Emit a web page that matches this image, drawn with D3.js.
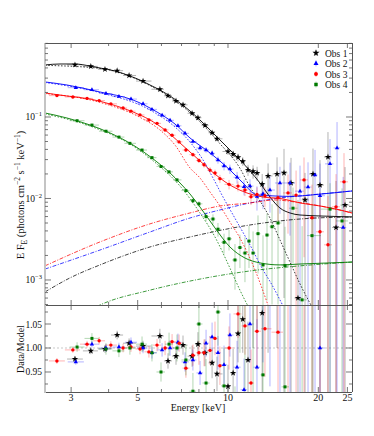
<!DOCTYPE html>
<html><head><meta charset="utf-8">
<script src="https://cdn.jsdelivr.net/npm/d3@7"></script>
<style>
body{margin:0;background:#fff}
svg{display:block}
text{font-family:"Liberation Serif","DejaVu Serif",serif;fill:#111}
</style></head>
<body><svg id="c" width="374" height="436"></svg>
<script>
// ---------------- data: Obs 1 (black) ----------------
const E1=[3.09,3.49,3.89,4.27,4.68,5.21,5.93,6.31,6.71,7.08,7.59,7.94,8.38,8.85,9.19,10.0,10.4,10.8,11.2,11.66,12.12,12.5,13.0,13.6,14.57,15.37,16.22,17.11,18.06,19.2,20.26,21.54,22.91,24.55];
const F1=[0.437,0.418,0.385,0.370,0.323,0.276,0.219,0.182,0.157,0.141,0.111,0.098,0.079,0.064,0.054,0.0377,0.035,0.032,0.0286,0.0224,0.0215,0.0205,0.0150,0.0189,0.0200,0.0206,0.0155,0.0006,0.0096,0.0200,0.0146,0.0323,0.0044,0.0083];
const Fe1=[0.008,0.007,0.006,0.006,0.006,0.005,0.005,0.005,0.004,0.004,0.004,0.004,0.004,0.0035,0.0035,0.0035,0.0035,0.0035,0.0035,0.0035,0.004,0.004,0.005,0.008,0.012,0.02,0.016,0.009,0.011,0.021,0.015,0.033,0.012,0.016];
const R1=[0.977,0.994,0.998,1.027,1.010,1.004,1.025,0.973,0.983,1.006,0.983,1.008,0.990,0.969,0.946,0.920,0.948,1.030,1.060,0.975,1.10,1.19,1.073,1.69,2.6,3.1,2.35,0.1,1.55,3.3,2.4,5.4,0.73,1.4];
const Re1=[0.006,0.007,0.008,0.009,0.010,0.011,0.015,0.016,0.018,0.020,0.022,0.025,0.028,0.032,0.036,0.045,0.05,0.06,0.07,0.08,0.1,0.15,0.2,0.7,1.6,3.2,2.4,1.5,1.8,3.4,2.5,5.5,2.0,2.7];
// ---------------- data: Obs 2 (blue) ----------------
const E2=[3.11,3.52,3.92,4.33,4.75,5.21,5.58,6.03,6.41,6.81,7.19,7.64,8.07,8.45,8.85,9.26,9.70,10.15,10.72,11.31,11.84,12.49,13.08,13.8,14.9,16.09,17.38,18.48,19.5,20.26,21.88,23.09,24.2];
const F2=[0.229,0.216,0.194,0.178,0.166,0.145,0.124,0.105,0.091,0.078,0.063,0.050,0.0417,0.0394,0.0358,0.0297,0.0251,0.0230,0.0182,0.0139,0.0142,0.0106,0.0114,0.0127,0.0155,0.0155,0.0123,0.0138,0.0194,0.0108,0.0266,0.0417,0.0044];
const Fe2=[0.005,0.005,0.004,0.004,0.004,0.004,0.003,0.003,0.003,0.003,0.003,0.003,0.003,0.003,0.003,0.003,0.003,0.003,0.003,0.003,0.003,0.0035,0.004,0.006,0.009,0.012,0.013,0.014,0.02,0.016,0.027,0.045,0.014];
const R2=[0.971,1.008,1.000,1.002,1.012,1.000,0.990,0.996,1.000,1.012,0.971,0.975,0.948,1.010,1.023,0.990,0.965,1.027,0.960,0.913,1.050,0.960,1.120,1.320,1.550,1.570,1.200,1.300,1.750,1.000,2.300,3.500,0.360];
const Re2=[0.006,0.007,0.008,0.009,0.010,0.011,0.012,0.014,0.016,0.018,0.020,0.022,0.025,0.028,0.030,0.035,0.040,0.045,0.055,0.065,0.08,0.1,0.15,0.4,0.8,1.0,1.1,1.2,1.8,1.5,2.5,4.0,1.4];
// ---------------- data: Obs 3 (red) ----------------
const E3=[2.69,3.04,3.39,3.72,4.07,4.47,4.75,5.09,5.45,5.80,6.17,6.51,6.87,7.24,7.64,8.00,8.32,8.71,9.05,9.40,10.08,10.80,11.39,11.93,12.49,13.28,14.68,15.85,16.86,17.92,19.05,20.26,21.54,22.91,24.36];
const F3=[0.183,0.176,0.169,0.159,0.145,0.129,0.118,0.106,0.092,0.0835,0.0693,0.0598,0.0495,0.0393,0.0345,0.0293,0.0259,0.0223,0.0206,0.0175,0.0149,0.0142,0.0127,0.0105,0.0112,0.0108,0.0102,0.0117,0.0110,0.0169,0.0058,0.0039,0.0027,0.0079,0.0160];
const Fe3=[0.004,0.004,0.004,0.003,0.003,0.003,0.003,0.003,0.002,0.002,0.002,0.002,0.002,0.002,0.002,0.002,0.002,0.002,0.002,0.002,0.002,0.002,0.002,0.0022,0.0025,0.003,0.005,0.008,0.011,0.015,0.009,0.008,0.008,0.012,0.02];
const R3=[0.973,0.996,1.008,1.015,1.006,1.000,1.002,0.998,0.992,1.006,1.000,1.013,1.010,0.958,0.985,0.990,0.990,0.995,1.020,0.963,1.000,1.071,1.046,0.927,1.035,1.040,1.033,1.180,1.120,1.850,0.650,0.480,0.350,1.150,2.400];
const Re3=[0.006,0.006,0.007,0.008,0.008,0.009,0.010,0.011,0.012,0.013,0.015,0.016,0.018,0.020,0.022,0.025,0.028,0.030,0.035,0.040,0.045,0.050,0.060,0.070,0.080,0.10,0.25,0.6,0.9,1.3,1.0,1.2,1.4,1.8,2.6];
// ---------------- data: Obs 4 (green) ----------------
const E4=[3.14,3.52,3.92,4.33,4.71,5.17,5.58,5.98,6.36,6.76,7.24,7.64,8.00,8.45,8.91,9.26,9.70,10.08,10.55,10.96,11.39,11.75,12.12,12.59,13.08,13.49,14.02,14.68,15.49,16.47,17.66,19.05,21.88,23.99];
const F4=[0.090,0.0796,0.0669,0.0567,0.0475,0.0393,0.0317,0.0247,0.0212,0.0169,0.0125,0.0094,0.0086,0.0060,0.0056,0.0042,0.0029,0.0032,0.00176,0.0025,0.00214,0.0030,0.00214,0.0037,0.00153,0.00356,0.0045,0.0050,0.0015,0.0076,0.00057,0.0035,0.0074,0.0053];
const Fe4=[0.0018,0.0016,0.0014,0.0013,0.0012,0.0011,0.001,0.0009,0.0008,0.0008,0.0007,0.0007,0.0007,0.0007,0.0008,0.0008,0.0008,0.0009,0.001,0.0011,0.0012,0.0016,0.0018,0.0025,0.002,0.003,0.004,0.0045,0.003,0.006,0.004,0.005,0.008,0.008];
const R4=[1.002,1.020,0.998,0.994,1.000,1.008,0.990,0.950,1.008,1.000,0.975,0.910,1.050,0.927,1.190,1.075,0.921,1.230,0.770,1.190,1.150,1.700,1.260,2.200,0.944,2.200,2.800,3.200,0.919,4.800,0.360,2.200,4.600,3.200];
const Re4=[0.010,0.011,0.012,0.013,0.014,0.016,0.018,0.020,0.024,0.028,0.032,0.038,0.045,0.050,0.060,0.070,0.080,0.10,0.15,0.20,0.30,0.40,0.50,0.70,0.80,1.0,1.2,1.4,1.6,2.5,2.5,3.0,4.0,4.0];

// ---------------- model curves (energy, E F_E) ----------------
const mE1=[2.455,2.754,3.090,3.467,3.744,4.200,4.713,5.089,5.495,5.933,6.407,6.918,7.470,8.066,8.710,9.404,10.15,10.96,11.84,12.78,13.80,14.90,16.09,17.38,20.26,25.90];
const mF1=[0.435,0.447,0.447,0.422,0.399,0.367,0.318,0.284,0.247,0.214,0.181,0.1485,0.1185,0.0919,0.0693,0.0522,0.0394,0.0297,0.0218,0.0155,0.01043,0.00764,0.00664,0.00627,0.0061,0.00593];
const tE1=[2.455,3.744,5.495,6.918,8.066,9.404,10.96,11.84,12.78,13.80,14.90,16.09,17.38,19.3];
const tF1=[0.43,0.395,0.243,0.143,0.087,0.047,0.0235,0.01384,0.00932,0.00576,0.0031,0.00166,0.000893,0.000428];
const pE1=[2.455,2.974,3.744,5.495,7.470,11.84,17.38,25.90];
const pF1=[0.000713,0.00106,0.00153,0.00254,0.00337,0.00473,0.0056,0.00593];

const mE2=[2.455,2.905,3.744,4.825,5.797,6.657,7.470,8.710,10.15,11.22,12.49,13.80,16.09,20.26,25.90];
const mF2=[0.269,0.247,0.2026,0.1616,0.1152,0.082,0.0553,0.0362,0.0224,0.0155,0.01104,0.0108,0.0106,0.0113,0.01236];
const tE2=[2.455,3.744,5.495,6.657,7.470,8.257,8.913,9.624,10.72,11.84,12.98,14.02,15.49];
const tF2=[0.265,0.199,0.122,0.0754,0.0493,0.0297,0.01785,0.01043,0.00515,0.00269,0.0014,0.000868,0.000428];
const pE2=[2.455,3.744,5.495,7.470,9.404,11.84,14.90,18.76,25.90];
const pF2=[0.00136,0.00233,0.00388,0.00576,0.00723,0.00881,0.01014,0.01104,0.01236];

const mE3=[2.455,2.905,3.467,4.042,4.825,5.495,6.166,6.918,7.470,8.066,8.710,10.15,11.57,13.08,15.25,17.38,20.26,23.62,25.90];
const mF3=[0.197,0.181,0.1663,0.1444,0.1152,0.0919,0.0693,0.048,0.0372,0.0289,0.0224,0.01464,0.01168,0.01043,0.00986,0.00881,0.00809,0.00723,0.00664];
const tE3=[2.455,3.744,5.089,5.933,6.657,7.470,8.066,8.710,9.404,10.15,10.96,12.30,13.59];
const tF3=[0.194,0.151,0.099,0.0693,0.0453,0.0237,0.01785,0.01202,0.00809,0.00515,0.00327,0.00133,0.000493];
const pE3=[2.455,3.744,5.495,7.470,9.404,11.84,14.34,16.72,19.50,22.73,25.90];
const pF3=[0.00149,0.00293,0.00488,0.00664,0.00809,0.00881,0.00959,0.00906,0.00832,0.00743,0.00664];

const mE4=[2.455,2.905,3.467,4.042,4.825,5.797,6.407,6.918,7.470,8.066,9.050,10.15,11.39,12.78,14.90,17.38,21.88,25.90];
const mF4=[0.112,0.0972,0.0798,0.0637,0.0453,0.0281,0.0206,0.0155,0.01135,0.00786,0.00435,0.00254,0.00186,0.00162,0.00153,0.00157,0.00162,0.00166];
const tE4=[2.455,3.467,4.825,5.797,6.918,8.066,9.050,10.15,10.96,11.84];
const tF4=[0.1089,0.0775,0.0441,0.0265,0.01423,0.00664,0.00337,0.0014,0.00075,0.000428];
const pE4=[3.467,3.744,5.495,7.470,11.84,17.38,25.90];
const pF4=[0.000428,0.000493,0.00075,0.00097,0.00129,0.00149,0.00166];

// ---------------- axes / ticks ----------------
const xTicksMajor=[3,5,10,20,25];
const xTickLabels=["3","5","10","20","25"];
const xTicksMinor=[4,6,7,8,9];
const yUpperMajor=[1e-3,1e-2,1e-1];
const yUpperLabels=["\u22123","\u22122","\u22121"];
const yLowerMajor=[0.95,1.00,1.05];
const yLowerLabels=["0.95","1.00","1.05"];
const yLowerMinor=[0.925,0.975,1.025,1.075];
const legendNames=["Obs 1","Obs 2","Obs 3","Obs 4"];

// ---------------- drawing ----------------
const svg=d3.select('#c');
const L=45,R=352,T=43,M=305,B=392;
const x=d3.scaleLog().domain([2.455,25.9]).range([L,R]);
const yU=d3.scaleLog().domain([4.93e-4,0.809]).range([M,T]);
const yL=d3.scaleLinear().domain([0.9083,1.0896]).range([B,M]);

const defs=svg.append('defs');
defs.append('clipPath').attr('id','cu').append('rect').attr('x',L).attr('y',T).attr('width',R-L).attr('height',M-T);
defs.append('clipPath').attr('id','cl').append('rect').attr('x',L).attr('y',M).attr('width',R-L).attr('height',B-M);

const obs=[
 {color:'#000000',sym:d3.symbolStar,size:13,E:E1,F:F1,Fe:Fe1,R:R1,Re:Re1,m:[mE1,mF1],t:[tE1,tF1],p:[pE1,pF1]},
 {color:'#0000ff',sym:d3.symbolTriangle,size:8,E:E2,F:F2,Fe:Fe2,R:R2,Re:Re2,m:[mE2,mF2],t:[tE2,tF2],p:[pE2,pF2]},
 {color:'#ff0000',sym:d3.symbolCircle,size:9,E:E3,F:F3,Fe:Fe3,R:R3,Re:Re3,m:[mE3,mF3],t:[tE3,tF3],p:[pE3,pF3]},
 {color:'#007a00',sym:d3.symbolSquare,size:9,E:E4,F:F4,Fe:Fe4,R:R4,Re:Re4,m:[mE4,mF4],t:[tE4,tF4],p:[pE4,pF4]}
];

function edges(E){
  return E.map((e,i)=>{
    const prev=i>0?E[i-1]:e*e/E[i+1];
    const next=i<E.length-1?E[i+1]:e*e/E[i-1];
    return [Math.sqrt(prev*e),Math.sqrt(e*next)];
  });
}

const gU=svg.append('g').attr('clip-path','url(#cu)');
const gL=svg.append('g').attr('clip-path','url(#cl)');

gL.append('line').attr('x1',L).attr('x2',R).attr('y1',yL(1)).attr('y2',yL(1))
  .attr('stroke','#bbb').attr('stroke-width',0.8).attr('stroke-dasharray','2,2');

// error bars
obs.forEach(o=>{
  const ed=edges(o.E);
  const idx=d3.range(o.E.length);
  const eu=gU.append('g').attr('stroke',o.color).attr('stroke-opacity',0.3).attr('stroke-width',1);
  eu.selectAll('.h').data(idx).join('line')
    .attr('x1',i=>x(ed[i][0])).attr('x2',i=>x(ed[i][1]))
    .attr('y1',i=>yU(o.F[i])).attr('y2',i=>yU(o.F[i]));
  eu.selectAll('.v').data(idx).join('line')
    .attr('x1',i=>x(o.E[i])).attr('x2',i=>x(o.E[i]))
    .attr('y1',i=>yU(Math.max(o.F[i]-o.Fe[i],1e-5))).attr('y2',i=>yU(o.F[i]+o.Fe[i]));
  const el=gL.append('g').attr('stroke',o.color).attr('stroke-opacity',0.3).attr('stroke-width',1);
  el.selectAll('.h').data(idx).join('line')
    .attr('x1',i=>x(ed[i][0])).attr('x2',i=>x(ed[i][1]))
    .attr('y1',i=>yL(o.R[i])).attr('y2',i=>yL(o.R[i]));
  el.selectAll('.v').data(idx).join('line')
    .attr('x1',i=>x(o.E[i])).attr('x2',i=>x(o.E[i]))
    .attr('y1',i=>yL(o.R[i]-o.Re[i])).attr('y2',i=>yL(o.R[i]+o.Re[i]));
});

// model curves
const line=d3.line().x(d=>x(d[0])).y(d=>yU(d[1])).curve(d3.curveMonotoneX);
obs.forEach(o=>{
  const pts=a=>a[0].map((e,i)=>[e,a[1][i]]);
  gU.append('path').attr('d',line(pts(o.p))).attr('fill','none').attr('stroke',o.color)
    .attr('stroke-width',0.75).attr('stroke-dasharray','4,1.5,1,1.5');
  gU.append('path').attr('d',line(pts(o.t))).attr('fill','none').attr('stroke',o.color)
    .attr('stroke-width',0.75).attr('stroke-dasharray','1.6,1.6');
  gU.append('path').attr('d',line(pts(o.m))).attr('fill','none').attr('stroke',o.color)
    .attr('stroke-width',0.9);
});

// markers
obs.forEach(o=>{
  const s=d3.symbol().type(o.sym).size(o.size)();
  const idx=d3.range(o.E.length);
  gU.append('g').selectAll('path').data(idx).join('path').attr('d',s).attr('fill',o.color)
    .attr('transform',i=>`translate(${x(o.E[i])},${yU(o.F[i])})`);
  gL.append('g').selectAll('path').data(idx).join('path').attr('d',s).attr('fill',o.color)
    .attr('transform',i=>`translate(${x(o.E[i])},${yL(o.R[i])})`);
});

// frame
const ax=svg.append('g').attr('stroke','#555').attr('stroke-width',1).attr('fill','none');
ax.append('line').attr('x1',L).attr('x2',R).attr('y1',T+0.5).attr('y2',T+0.5);
ax.append('line').attr('x1',L).attr('x2',R).attr('y1',M+0.5).attr('y2',M+0.5);
ax.append('line').attr('x1',L).attr('x2',R).attr('y1',B+0.5).attr('y2',B+0.5);
ax.append('line').attr('x1',R+0.5).attr('x2',R+0.5).attr('y1',T).attr('y2',B);
svg.append('line').attr('x1',L).attr('x2',L).attr('y1',T).attr('y2',B+1)
  .attr('stroke','#c4c4c4').attr('stroke-width',2);

// ticks
const tk=svg.append('g').attr('stroke','#555').attr('stroke-width',0.8);
function xt(v,len){
  [[T,1],[M,-1],[M,1],[B,-1]].forEach(([y0,dir])=>{
    tk.append('line').attr('x1',x(v)).attr('x2',x(v)).attr('y1',y0).attr('y2',y0+dir*len);
  });
}
xTicksMajor.forEach(v=>xt(v,5));
xTicksMinor.forEach(v=>xt(v,3));
function yt(py,len){
  tk.append('line').attr('x1',L).attr('x2',L+len).attr('y1',py).attr('y2',py);
  tk.append('line').attr('x1',R).attr('x2',R-len).attr('y1',py).attr('y2',py);
}
yUpperMajor.forEach(v=>yt(yU(v),6));
[1e-4,1e-3,1e-2,1e-1].forEach(d=>d3.range(2,10).forEach(k=>{
  const v=d*k; if(v>4.93e-4&&v<0.809) yt(yU(v),3);
}));
yLowerMajor.forEach(v=>yt(yL(v),6));
yLowerMinor.forEach(v=>yt(yL(v),3));

// tick labels
xTicksMajor.forEach((v,i)=>{
  svg.append('text').attr('x',x(v)).attr('y',401).attr('text-anchor','middle')
    .attr('font-size',10).text(xTickLabels[i]);
});
yUpperMajor.forEach((v,i)=>{
  const t=svg.append('text').attr('x',42).attr('y',yU(v)+3.5).attr('text-anchor','end').attr('font-size',9.5);
  t.append('tspan').text('10');
  t.append('tspan').attr('dy',-4).attr('font-size',6.5).text(yUpperLabels[i]);
});
yLowerMajor.forEach((v,i)=>{
  svg.append('text').attr('x',42).attr('y',yL(v)+3.5).attr('text-anchor','end')
    .attr('font-size',9.5).text(yLowerLabels[i]);
});

// axis titles
svg.append('text').attr('x',198).attr('y',411).attr('text-anchor','middle').attr('font-size',10)
  .text('Energy [keV]');
svg.append('text').attr('transform','translate(24,349) rotate(-90)').attr('text-anchor','middle')
  .attr('font-size',10).text('Data/Model');
const yl=svg.append('text').attr('transform','translate(24,195) rotate(-90)').attr('text-anchor','middle')
  .attr('font-size',10.5);
yl.append('tspan').text('E F');
yl.append('tspan').attr('dy',2.5).attr('font-size',7.5).text('E');
yl.append('tspan').attr('dy',-2.5).text(' (photons cm');
yl.append('tspan').attr('dy',-4).attr('font-size',7.5).text('\u22122');
yl.append('tspan').attr('dy',4).text(' s');
yl.append('tspan').attr('dy',-4).attr('font-size',7.5).text('\u22121');
yl.append('tspan').attr('dy',4).text(' keV');
yl.append('tspan').attr('dy',-4).attr('font-size',7.5).text('\u22121');
yl.append('tspan').attr('dy',4).text(')');

// legend
obs.forEach((o,i)=>{
  const ly=53+i*10.5;
  svg.append('line').attr('x1',316).attr('x2',316).attr('y1',ly-3).attr('y2',ly+3)
    .attr('stroke',o.color).attr('stroke-opacity',0.3);
  svg.append('path').attr('d',d3.symbol().type(o.sym).size(o.size+3)()).attr('fill',o.color)
    .attr('transform',`translate(316,${ly})`);
  svg.append('text').attr('x',325).attr('y',ly+3.5).attr('font-size',9.5).text(legendNames[i]);
});
</script></body></html>
